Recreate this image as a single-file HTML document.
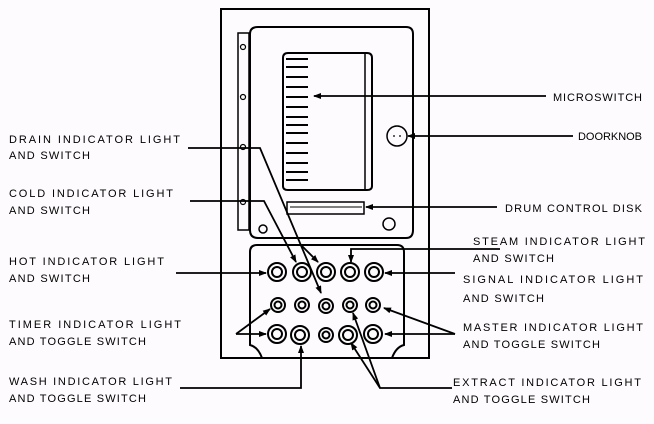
<!DOCTYPE html>
<html><head><style>html,body{margin:0;padding:0;background:#fdfbfd}</style></head><body>
<svg width="654" height="419" viewBox="0 0 654 419" xmlns="http://www.w3.org/2000/svg">
<defs><marker id="a" markerWidth="8" markerHeight="6" refX="7" refY="3" orient="auto" markerUnits="userSpaceOnUse"><path d="M0,0 L8,3 L0,6 Z" fill="#000"/></marker></defs>
<rect width="654" height="419" fill="#fdfbfd"/>
<g fill="none" stroke="#000" stroke-width="2">
<rect x="221" y="9" width="208" height="349"/>
<rect x="238" y="33" width="11" height="197" stroke-width="1.5"/>
<path d="M250,34 Q250,27 258,27 L406,27 Q413,27 413,34 L413,230 Q413,238 406,238 L258,238 Q250,238 250,230 Z"/>
<path d="M288,53 L367,53 Q372,53 372,58 L372,186 Q372,190 367,190 L288,190 Q283,190 283,186 L283,58 Q283,53 288,53 Z"/>
<line x1="365" y1="54" x2="365" y2="189" stroke-width="1.5"/>
<rect x="287" y="202" width="77" height="12" stroke-width="1.5"/>
<circle cx="397" cy="136" r="10" stroke-width="1.5"/>
<circle cx="389" cy="224" r="6" stroke-width="1.5"/>
<circle cx="263" cy="229" r="4" stroke-width="1.5"/>
<circle cx="243" cy="47" r="2.5" stroke-width="1.2"/>
<circle cx="243" cy="97" r="2.5" stroke-width="1.2"/>
<circle cx="243" cy="147" r="2.5" stroke-width="1.2"/>
<circle cx="243" cy="202" r="2.5" stroke-width="1.2"/>
<path d="M262,358 Q258,347 250,345 L250,252 Q250,245 257,245 L397,245 Q404,245 404,252 L404,345 Q396,347 392,358"/>
</g>
<g stroke="#000" stroke-width="2">
<line x1="286" y1="59" x2="308" y2="59"/><line x1="286" y1="67" x2="308" y2="67"/><line x1="286" y1="77" x2="308" y2="77"/><line x1="286" y1="87" x2="308" y2="87"/><line x1="286" y1="97" x2="308" y2="97"/><line x1="286" y1="107" x2="308" y2="107"/><line x1="286" y1="117" x2="308" y2="117"/><line x1="286" y1="125" x2="308" y2="125"/><line x1="286" y1="133" x2="308" y2="133"/><line x1="286" y1="143" x2="308" y2="143"/><line x1="286" y1="153" x2="308" y2="153"/><line x1="286" y1="163" x2="308" y2="163"/><line x1="286" y1="172" x2="308" y2="172"/><line x1="286" y1="180" x2="308" y2="180"/>
<line x1="290" y1="207" x2="362" y2="207" stroke-width="1"/>
<line x1="393" y1="136" x2="395" y2="136" stroke-width="1.2"/><line x1="399" y1="136" x2="401" y2="136" stroke-width="1.2"/>
</g>
<g fill="none" stroke="#000" stroke-width="2">
<circle cx="277" cy="272" r="9"/><circle cx="277" cy="272" r="5"/>
<circle cx="302" cy="272" r="9"/><circle cx="302" cy="272" r="5"/>
<circle cx="326" cy="272" r="9"/><circle cx="326" cy="272" r="5"/>
<circle cx="350" cy="272" r="9"/><circle cx="350" cy="272" r="5"/>
<circle cx="374" cy="272" r="9"/><circle cx="374" cy="272" r="5"/>
<circle cx="278" cy="305" r="7"/><circle cx="278" cy="305" r="3.5"/>
<circle cx="302" cy="305" r="7"/><circle cx="302" cy="305" r="3.5"/>
<circle cx="326" cy="306" r="7"/><circle cx="326" cy="306" r="3.5"/>
<circle cx="350" cy="305" r="7"/><circle cx="350" cy="305" r="3.5"/>
<circle cx="373" cy="305" r="7"/><circle cx="373" cy="305" r="3.5"/>
<circle cx="277" cy="334" r="9"/><circle cx="277" cy="334" r="5"/>
<circle cx="300" cy="335" r="9"/><circle cx="300" cy="335" r="5"/>
<circle cx="326" cy="335" r="7"/><circle cx="326" cy="335" r="3.5"/>
<circle cx="348" cy="335" r="9"/><circle cx="348" cy="335" r="5"/>
<circle cx="373" cy="334" r="9"/><circle cx="373" cy="334" r="5"/>
</g>
<g fill="none" stroke="#000" stroke-width="1.8" marker-end="url(#a)">
<line x1="546" y1="96" x2="314" y2="96"/>
<line x1="573" y1="136" x2="408" y2="136"/>
<line x1="497" y1="207" x2="366" y2="207"/>
<polyline points="188,148 260,148 321,293"/>
<line x1="301" y1="245" x2="318" y2="262"/>
<polyline points="190,201 264,201 296,262"/>
<polyline points="500,249 351,249 351,262"/>
<line x1="176" y1="273" x2="266" y2="273"/>
<line x1="455" y1="273" x2="385" y2="273"/>
<line x1="236" y1="334" x2="270" y2="309"/>
<line x1="236" y1="334" x2="266" y2="334"/>
<line x1="455" y1="334" x2="384" y2="308"/>
<line x1="455" y1="334" x2="385" y2="334"/>
<polyline points="180,388 301,388 301,346"/>
<polyline points="452,388 380,388 353,313"/>
<line x1="380" y1="388" x2="351" y2="343"/>
</g>
<g font-family="Liberation Sans, sans-serif" font-size="11" fill="#000">
<text x="9" y="143" textLength="171">DRAIN INDICATOR LIGHT</text>
<text x="9" y="159" textLength="81">AND SWITCH</text>
<text x="9" y="197" textLength="164">COLD INDICATOR LIGHT</text>
<text x="9" y="214" textLength="81">AND SWITCH</text>
<text x="9" y="265" textLength="155">HOT INDICATOR LIGHT</text>
<text x="9" y="282" textLength="81">AND SWITCH</text>
<text x="9" y="328" textLength="172">TIMER INDICATOR LIGHT</text>
<text x="9" y="345" textLength="137">AND TOGGLE SWITCH</text>
<text x="9" y="385" textLength="163">WASH INDICATOR LIGHT</text>
<text x="9" y="402" textLength="137">AND TOGGLE SWITCH</text>
<text x="553" y="101" textLength="89">MICROSWITCH</text>
<text x="578" y="140" textLength="64">DOORKNOB</text>
<text x="505" y="212" textLength="137">DRUM CONTROL DISK</text>
<text x="473" y="245" textLength="172">STEAM INDICATOR LIGHT</text>
<text x="473" y="262" textLength="81">AND SWITCH</text>
<text x="463" y="283" textLength="180">SIGNAL INDICATOR LIGHT</text>
<text x="463" y="302" textLength="81">AND SWITCH</text>
<text x="463" y="331" textLength="180">MASTER INDICATOR LIGHT</text>
<text x="463" y="348" textLength="137">AND TOGGLE SWITCH</text>
<text x="453" y="386" textLength="188">EXTRACT INDICATOR LIGHT</text>
<text x="453" y="403" textLength="137">AND TOGGLE SWITCH</text>
</g>
</svg>
</body></html>
